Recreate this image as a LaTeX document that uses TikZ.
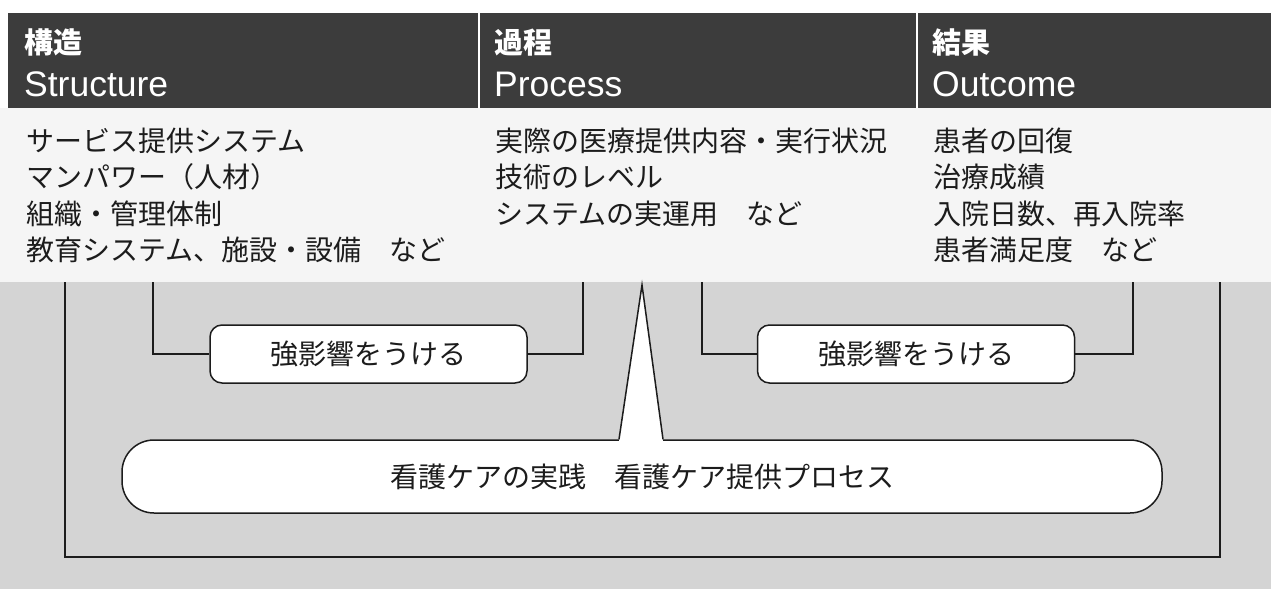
\documentclass[tikz,border=0pt]{standalone}
\usepackage{fontspec}
\usetikzlibrary{calc}
\newfontfamily\jp{Noto Sans CJK JP}
\newfontfamily\lat{Liberation Sans}
\definecolor{hdr}{HTML}{3C3C3C}
\definecolor{lightbg}{HTML}{F5F5F5}
\definecolor{graybg}{HTML}{D4D4D4}
\definecolor{ink}{HTML}{1C1C1C}
\begin{document}
\begin{tikzpicture}[x=1pt,y=-1pt,
  hjp/.style={font=\jp\bfseries\fontsize{29}{29}\selectfont, text=white, anchor=base west, inner sep=0pt},
  hlat/.style={font=\lat\fontsize{35.5}{35.5}\selectfont, text=white, anchor=base west, inner sep=0pt},
  body/.style={font=\jp\fontsize{28}{28}\selectfont, text=ink, anchor=base west, inner sep=0pt},
  pill/.style={draw=ink, line width=1.5pt, fill=white, rounded corners=12pt, minimum width=317pt, minimum height=58pt, inner sep=0pt, text=ink, font=\jp\fontsize{28}{28}\selectfont},
  bigpill/.style={draw=ink, line width=1.5pt, fill=white, rounded corners=32pt, minimum width=1040pt, minimum height=73pt, inner sep=0pt, text=ink, font=\jp\fontsize{28}{28}\selectfont},
  conn/.style={draw=ink, line width=1.5pt, line join=miter},
  divider/.style={draw=white, line width=1.2pt}]
\useasboundingbox (0,0) rectangle (1271,589);
% backgrounds
\fill[white] (0,0) rectangle (1271,589);
\fill[lightbg] (0,108) rectangle (1271,282);
\fill[graybg] (0,282) rectangle (1271,589);
\fill[hdr] (8,13) rectangle (1271,108);
\draw[divider] (479,13) -- (479,108);
\draw[divider] (917,13) -- (917,108);
% header texts
\node[hjp]  (hS1) at (24,53) {構造};
\node[hlat] (hS2) at (24,96) {Structure};
\node[hjp]  (hP1) at (494,53) {過程};
\node[hlat] (hP2) at (494,96) {Process};
\node[hjp]  (hO1) at (932,53) {結果};
\node[hlat] (hO2) at (932,96) {Outcome};
% body texts
\node[body] (s1) at (26,151) {サービス提供システム};
\node[body] (s2) at (26,187) {マンパワー（人材）};
\node[body] (s3) at (26,224) {組織・管理体制};
\node[body] (s4) at (26,260) {教育システム、施設・設備　など};
\node[body] (p1) at (495,151) {実際の医療提供内容・実行状況};
\node[body] (p2) at (495,187) {技術のレベル};
\node[body] (p3) at (495,224) {システムの実運用　など};
\node[body] (o1) at (933,151) {患者の回復};
\node[body] (o2) at (933,187) {治療成績};
\node[body] (o3) at (933,224) {入院日数、再入院率};
\node[body] (o4) at (933,260) {患者満足度　など};
% boxes
\node[pill] (inf1) at (368.5,354) {強影響をうける};
\node[pill] (inf2) at (916,354) {強影響をうける};
\node[bigpill] (care) at (642,476.5) {看護ケアの実践　看護ケア提供プロセス};
% connector end points
\coordinate (cS) at (153,282);
\coordinate (cP1) at (583,282);
\coordinate (cP2) at (702,282);
\coordinate (cO) at (1133,282);
\coordinate (oL) at (65,282);
\coordinate (oR) at (1220,282);
\coordinate (oB) at (642,557);
\coordinate (apex) at (642,285);
% connectors
\draw[conn] (cS) |- (inf1.west);
\draw[conn] (inf1.east) -| (cP1);
\draw[conn] (cP2) |- (inf2.west);
\draw[conn] (inf2.east) -| (cO);
\draw[conn] (oL) |- (oB) -| (oR);
% pointer of the balloon
\fill[white] ($(care.north)+(-23,2)$) -- (apex) -- ($(care.north)+(21,2)$) -- cycle;
\draw[conn] ($(care.north)+(-23,0)$) -- (apex) -- ($(care.north)+(21,0)$);
\end{tikzpicture}
\end{document}
